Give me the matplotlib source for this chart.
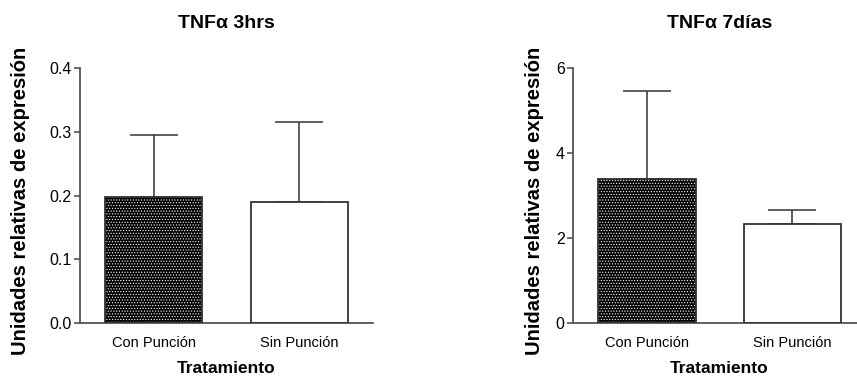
import matplotlib
matplotlib.use("Agg")
import matplotlib.pyplot as plt

# Data
groups = ["Con Punción", "Sin Punción"]
titles = ["TNFα 3hrs", "TNFα 7días"]
means_3h = [0.197, 0.190]
err_3h = [0.098, 0.126]
means_7d = [3.38, 2.33]
err_7d = [2.08, 0.32]
yticks_3h = [0.0, 0.1, 0.2, 0.3, 0.4]
yticks_7d = [0, 2, 4, 6]

plt.rcParams["font.family"] = ["Liberation Sans", "DejaVu Sans"]
plt.rcParams["hatch.linewidth"] = 0.5

fig = plt.figure(figsize=(8.57, 3.78), dpi=100)
ax1 = fig.add_axes([0.0933, 0.1455, 0.342, 0.6746])
ax2 = fig.add_axes([0.6686, 0.1455, 0.342, 0.6746])

axis_col = "#555555"
pos = [0, 1]
w = 0.67

def draw(ax, means, errs, yt, fmt, title):
    # dotted black bar, plain white bar
    ax.bar(pos[0], means[0], w, color="black", edgecolor="white", hatch="......", linewidth=0, zorder=2)
    ax.bar(pos[1], means[1], w, color="white", linewidth=0, zorder=2)
    ax.bar(pos, means, w, fill=False, edgecolor="#333333", linewidth=1.3, zorder=3)
    ax.errorbar(pos, means, yerr=[[0, 0], errs], fmt="none", ecolor="#333333",
                elinewidth=1.1, capsize=17, capthick=1.1, zorder=1)
    ax.set_xlim(-0.506, 1.506)
    ax.set_ylim(yt[0], yt[-1])
    ax.set_yticks(yt)
    ax.set_yticklabels([fmt.format(v) for v in yt])
    ax.set_xticks(pos)
    ax.set_xticklabels(groups)
    for s in ["top", "right"]:
        ax.spines[s].set_visible(False)
    for s in ["left", "bottom"]:
        ax.spines[s].set_color(axis_col)
        ax.spines[s].set_linewidth(1.3)
    ax.tick_params(axis="y", length=4, width=1.2, color=axis_col, labelsize=11.5, pad=2)
    ax.tick_params(axis="x", length=0, labelsize=10.5, pad=9)
    ax.set_xlabel("Tratamiento", fontsize=12.5, fontweight="bold", labelpad=8)
    ax.set_ylabel("Unidades relativas de expresión", fontsize=14.5, fontweight="bold")
    ax.set_title(title, fontsize=14, fontweight="bold", pad=29)

draw(ax1, means_3h, err_3h, yticks_3h, "{:.1f}", titles[0])
draw(ax2, means_7d, err_7d, yticks_7d, "{:d}", titles[1])
ax1.yaxis.set_label_coords(-0.17, 0.48)
ax2.yaxis.set_label_coords(-0.10, 0.48)

fig.savefig("out.png", dpi=100)
